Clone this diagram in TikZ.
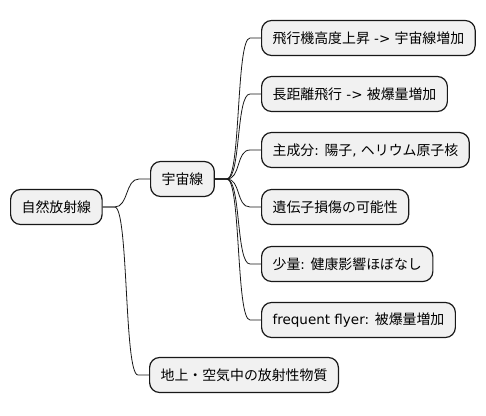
\documentclass[tikz,border=0pt]{standalone}
\usepackage{fontspec}
\setmainfont{DejaVu Sans}
\newfontfamily\jp{Noto Sans CJK JP}
\usetikzlibrary{positioning}

\definecolor{boxfill}{HTML}{F1F1F1}
\definecolor{boxline}{HTML}{181818}

\tikzset{
  topic/.style={draw=boxline, line width=1.2pt, fill=boxfill, rounded corners=10pt,
    minimum height=35pt, inner xsep=11pt, anchor=west,
    font=\fontsize{13.9pt}{16pt}\selectfont\jp},
  branch/.style={boxline, line width=0.8pt}
}
\newcommand{\lat}[1]{{\fontspec{DejaVu Sans}\fontsize{13.5pt}{16pt}\selectfont #1}}
% child.west back to parent.east
\newcommand{\twig}[2]{\draw[branch] (#2.west) -- ++(-11pt,0) .. controls +(-14pt,0) and +(14pt,0) .. ([xshift=12pt]#1.east) -- (#1.east);}

\begin{document}
\begin{tikzpicture}[x=1pt,y=-1pt]
    \useasboundingbox (0,0) rectangle (486,415);

    \node[topic] (root) at (10,207) {自然放射線};
    \node[topic] (cosmic) at (150,179) {宇宙線};
    \node[topic] (ground) at (149,375) {地上・空気中の放射性物質};

    \node[topic] (alt) at (261,38) {飛行機高度上昇\lat{ -> }宇宙線増加};
    \node[topic] (dist) at (261,94) {長距離飛行\lat{ -> }被爆量増加};
    \node[topic] (comp) at (261,150) {主成分\lat{: }陽子\lat{, }ヘリウム原子核};
    \node[topic] (gene) at (261,207) {遺伝子損傷の可能性};
    \node[topic] (small) at (261,264) {少量\lat{: }健康影響ほぼなし};
    \node[topic] (flyer) at (261,320) {\lat{frequent flyer: }被爆量増加};

    \twig{root}{cosmic}
    \twig{root}{ground}
    \foreach \c in {alt,dist,comp,gene,small,flyer}
        {\twig{cosmic}{\c}}
\end{tikzpicture}
\end{document}
